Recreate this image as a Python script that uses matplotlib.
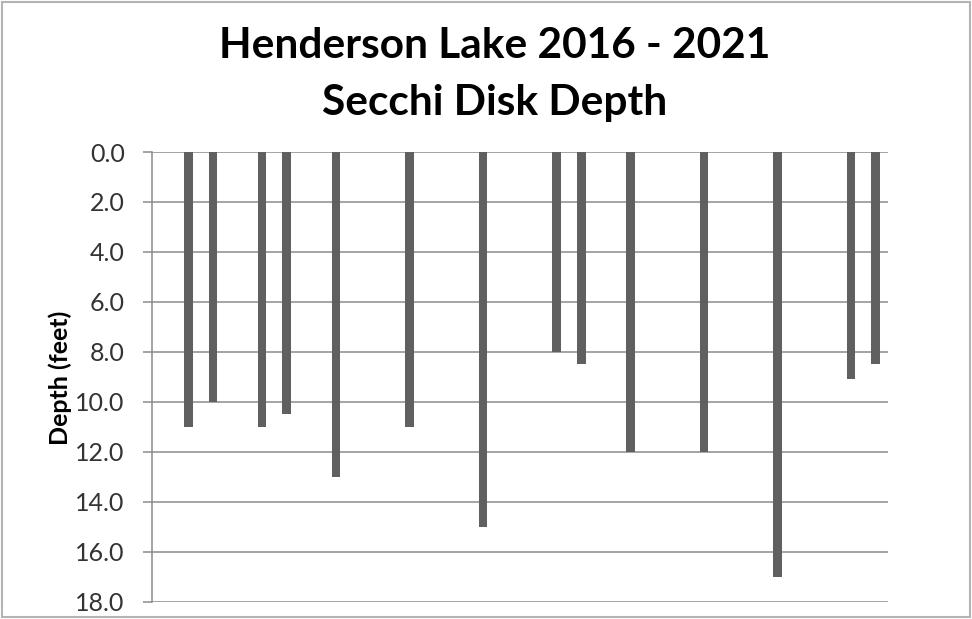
import matplotlib
matplotlib.use("Agg")
import matplotlib.pyplot as plt
from matplotlib.patches import Rectangle
from matplotlib.ticker import FormatStrFormatter

# -------------------------------------------------------------------
# DATA (Secchi disk readings, 5 sampling slots per season)
# -------------------------------------------------------------------
years = [2016, 2016, 2016, 2017, 2017, 2018, 2018,
         2019, 2019, 2019, 2020, 2021, 2021, 2021]
slots = [1, 2, 4, 0, 2, 0, 3, 1, 2, 4, 2, 0, 3, 4]
depth_ft = [11.0, 10.0, 11.0, 10.5, 13.0, 11.0, 15.0,
            8.0, 8.5, 12.0, 12.0, 17.0, 9.1, 8.5]
first_year = 2016
slots_per_year = 5
n_years = 6
y_ticks = [0, 2, 4, 6, 8, 10, 12, 14, 16, 18]

title_lines = ["Henderson Lake 2016 - 2021", "Secchi Disk Depth"]
y_label = "Depth (feet)"

# -------------------------------------------------------------------
# PLOT
# -------------------------------------------------------------------
plt.rcParams["font.family"] = ["Lato", "DejaVu Sans"]

fig = plt.figure(figsize=(9.72, 6.19), dpi=100)
ax = fig.add_axes([0.1561, 0.0280, 0.7575, 0.7264])

positions = [(y - first_year) * slots_per_year + s for y, s in zip(years, slots)]
ax.bar(positions, depth_ft, width=0.35, color="#606060", zorder=3)

ax.set_xlim(-0.5, n_years * slots_per_year - 0.5)
ax.set_ylim(max(y_ticks), 0)
ax.set_yticks(y_ticks)
ax.yaxis.set_major_formatter(FormatStrFormatter("%.1f"))
ax.set_xticks([])

grid_col = "#8c8c8c"
ax.yaxis.grid(True, color=grid_col, linewidth=1.1)
ax.set_axisbelow(True)
for side in ["top", "right", "bottom"]:
    ax.spines[side].set_visible(False)
ax.spines["left"].set_color(grid_col)
ax.spines["left"].set_linewidth(1.1)
ax.tick_params(axis="y", direction="out", length=6.5, width=1.1,
               color=grid_col, labelsize=18, labelcolor="#333333", pad=13)

ax.set_ylabel(y_label, fontsize=18, fontweight="bold", color="#000000")
ax.yaxis.set_label_coords(-0.108, 0.497)

# two title lines, baselines
for line, yb in zip(title_lines, [0.9058, 0.8142]):
    fig.text(0.509, yb, line, ha="center", va="baseline", fontsize=30.5,
             fontweight="bold")

# light frame around the whole chart
fig.add_artist(Rectangle((0.002, 0.003), 0.996, 0.994, transform=fig.transFigure,
                         fill=False, edgecolor="#b4b4b4", linewidth=1.5))

fig.savefig("out.png", dpi=100)
